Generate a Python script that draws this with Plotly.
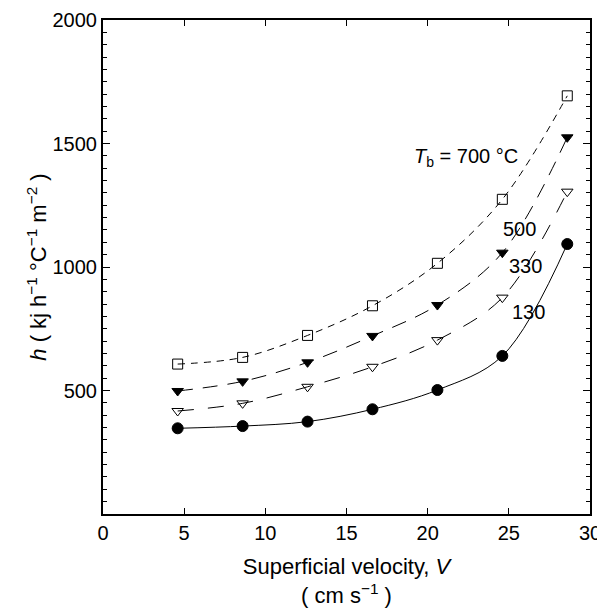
import plotly.graph_objects as go

velocity = [4.6, 8.6, 12.6, 16.6, 20.6, 24.6, 28.6]
h_700 = [607, 634, 723, 843, 1015, 1274, 1693]
h_500 = [498, 537, 614, 721, 846, 1058, 1525]
h_330 = [417, 448, 515, 596, 704, 876, 1305]
h_130 = [347, 356, 374, 424, 502, 640, 1093]

series_labels = ["<i>T</i><sub>b</sub> = 700 °C", "500", "330", "130"]
label_x = [22.35, 25.65, 26.05, 26.2]
label_y = [1445, 1154, 1004, 819]

FONT = "Liberation Sans, Arial, sans-serif"

fig = go.Figure()

styles = [
    (h_700, "7px,6px", "square-open", 10),
    (h_500, "15px,10px", "triangle-down", 10),
    (h_330, "16px,14px", "triangle-down-open", 10),
    (h_130, "solid", "circle", 11),
]

for vals, dash, sym, size in styles:
    fig.add_trace(go.Scatter(
        x=velocity, y=vals, mode="lines",
        line=dict(color="black", width=1, dash=dash, shape="spline", smoothing=1.0),
        showlegend=False, hoverinfo="skip"))
for vals, dash, sym, size in styles:
    fig.add_trace(go.Scatter(
        x=velocity, y=vals, mode="markers",
        marker=dict(symbol=sym, size=size, color="black",
                    line=dict(color="black", width=1)),
        showlegend=False))

for txt, lx, ly in zip(series_labels, label_x, label_y):
    fig.add_annotation(x=lx, y=ly, text=txt, showarrow=False,
                       font=dict(family=FONT, size=20, color="black"),
                       xanchor="center", yanchor="middle")

# page body adds an 8px margin, so the figure is 8px smaller and offset
fig.update_layout(
    width=597, height=600,
    margin=dict(l=95, r=15, t=12, b=94, autoexpand=False),
    plot_bgcolor="white", paper_bgcolor="white",
    font=dict(family=FONT, size=20, color="black"),
)

fig.update_xaxes(
    range=[0, 30], tickvals=[0, 5, 10, 15, 20, 25, 30],
    ticks="inside", ticklen=6, tickwidth=1, tickcolor="black",
    showline=True, linecolor="black", linewidth=2, mirror="ticks",
    showgrid=False, zeroline=False, automargin=False,
    tickfont=dict(size=20),
    title=dict(text="Superficial velocity, <i>V</i><br>( cm s<sup>−1</sup> )",
               font=dict(size=22), standoff=17),
)
fig.update_yaxes(
    range=[0, 2000], tickvals=[500, 1000, 1500, 2000],
    ticks="inside", ticklen=7, tickwidth=1, tickcolor="black",
    minor=dict(dtick=50, ticks="inside", ticklen=4, tickcolor="black", tickwidth=1),
    showline=True, linecolor="black", linewidth=2, mirror="ticks",
    showgrid=False, zeroline=False, automargin=False,
    tickfont=dict(size=20),
    title=dict(text="<i>h</i> ( kj h<sup>−1</sup> °C<sup>−1</sup> m<sup>−2</sup> )",
               font=dict(size=22), standoff=0),
)

fig.write_html("out.html")
